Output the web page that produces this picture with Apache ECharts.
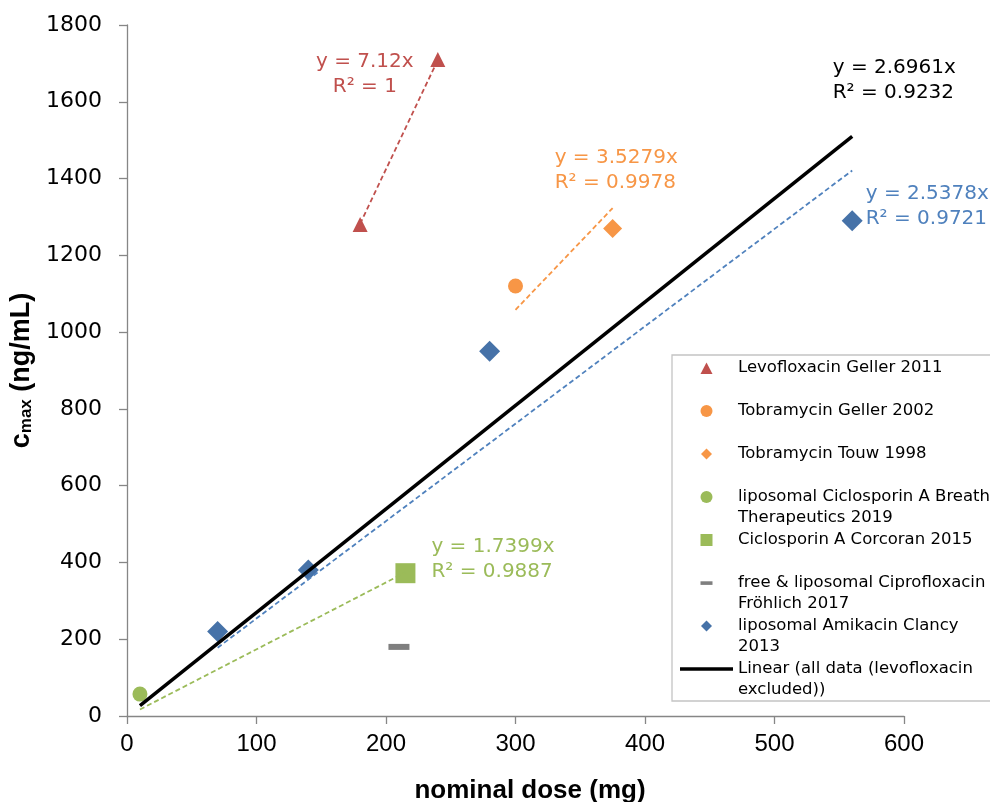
<!DOCTYPE html>
<html>
<head>
<meta charset="utf-8">
<script src="https://cdn.jsdelivr.net/npm/echarts@6/dist/echarts.min.js"></script>
<style>
html,body{margin:0;padding:0;background:#ffffff;}
#chart{width:990px;height:802px;}
</style>
</head>
<body>
<div id="chart"></div>
<script>
// ---------- data ----------
const xMin = 0, xMax = 600, xStep = 100;
const yMin = 0, yMax = 1800, yStep = 200;

const seriesNames = [
  'Levofloxacin Geller 2011',
  'Tobramycin Geller 2002',
  'Tobramycin Touw 1998',
  'liposomal Ciclosporin A Breath Therapeutics 2019',
  'Ciclosporin A Corcoran 2015',
  'free & liposomal Ciprofloxacin Fröhlich 2017',
  'liposomal Amikacin Clancy 2013',
  'Linear (all data (levofloxacin excluded))'
];
const legendLabels = [
  'Levofloxacin Geller 2011\n ',
  'Tobramycin Geller 2002\n ',
  'Tobramycin Touw 1998\n ',
  'liposomal Ciclosporin A Breath\nTherapeutics 2019',
  'Ciclosporin A Corcoran 2015\n ',
  'free & liposomal Ciprofloxacin\nFröhlich 2017',
  'liposomal Amikacin Clancy\n2013',
  'Linear (all data (levofloxacin\nexcluded))'
];

// [nominal dose (mg), cmax (ng/mL)]
const levofloxacinGeller2011 = [[180, 1280], [240, 1710]];
const tobramycinGeller2002 = [[300, 1120]];
const tobramycinTouw1998 = [[375, 1270]];
const ciclosporinBreath2019 = [[10, 57]];
const ciclosporinCorcoran2015 = [[215, 372]];
const ciprofloxacinFrohlich2017 = [[210, 180]];
const amikacinClancy2013 = [[70, 220], [140, 380], [280, 950], [560, 1290]];

// trend lines (end points)
const fitAllData = [[10, 27], [560, 1510]];
const fitLevofloxacin = [[180, 1282], [240, 1709]];
const fitTobramycin = [[300, 1058], [375, 1323]];
const fitCiclosporin = [[10, 17], [215, 374]];
const fitAmikacin = [[70, 178], [560, 1421]];

const eqAllData = 'y = 2.6961x\nR² = 0.9232';
const eqLevofloxacin = 'y = 7.12x\nR² = 1';
const eqTobramycin = 'y = 3.5279x\nR² = 0.9978';
const eqCiclosporin = 'y = 1.7399x\nR² = 0.9887';
const eqAmikacin = 'y = 2.5378x\nR² = 0.9721';

// ---------- styles ----------
const RED = '#C0504D', ORANGE = '#F79646', GREEN = '#9BBB59', GREY = '#7F7F7F';
const BLUE_MARK = '#4672A8', BLUE_LINE = '#4F81BD', BLACK = '#000000';
const AXIS_GREY = '#868686';
const WIDE_FONT = 'DejaVu Sans';
const FONT = 'Liberation Sans, Arial, sans-serif';

// legend icons: 53x42 box, glyph centred on first text line (y = 10.5)
const BOX = 'path://M0,0M53,42';
const legendIcons = [
  BOX + 'M20.5,16.5L26.5,5L32.5,16.5Z',
  BOX + 'M20.5,10.5A6,6 0 1 1 32.5,10.5A6,6 0 1 1 20.5,10.5Z',
  BOX + 'M26.5,5L32,10.5L26.5,16L21,10.5Z',
  BOX + 'M20.5,10.5A6,6 0 1 1 32.5,10.5A6,6 0 1 1 20.5,10.5Z',
  BOX + 'M20.5,4.5H32.5V16.5H20.5Z',
  BOX + 'M20.5,8.8H32.5V12.4H20.5Z',
  BOX + 'M26.5,5L32,10.5L26.5,16L21,10.5Z',
  BOX + 'M0,8.8H53V12.3H0Z'
];
const legendColors = [RED, ORANGE, ORANGE, GREEN, GREEN, GREY, BLUE_MARK, BLACK];

function scatter(i, data, symbol, size, color) {
  return {
    type: 'scatter', name: seriesNames[i], data: data,
    symbol: symbol, symbolSize: size,
    itemStyle: { color: color, opacity: 1 },
    z: 2
  };
}

function trend(data, color, dashed, width, eq, lbl, nameIdx) {
  const last = data.length - 1;
  const items = data.map((p, i) => i === last ? {
    value: p,
    label: Object.assign({
      show: true, formatter: eq, position: 'inside',
      color: color, fontFamily: WIDE_FONT, fontSize: 20, lineHeight: 25,
      verticalAlign: 'middle'
    }, lbl)
  } : { value: p, label: { show: false } });
  const s = {
    type: 'line', data: items,
    showSymbol: true, symbol: 'circle', symbolSize: 1,
    itemStyle: { color: 'rgba(0,0,0,0)' },
    lineStyle: { color: color, width: width, type: dashed ? [5, 3] : 'solid', cap: 'butt' },
    emphasis: { disabled: true },
    z: 5, silent: true
  };
  if (nameIdx !== undefined) s.name = seriesNames[nameIdx];
  return s;
}

const chart = echarts.init(document.getElementById('chart'), null, { renderer: 'canvas' });

chart.setOption({
  animation: false,
  backgroundColor: '#ffffff',
  grid: { left: 127, right: 86, top: 25, bottom: 86, containLabel: false, outerBoundsMode: 'none' },
  xAxis: {
    type: 'value', min: xMin, max: xMax, interval: xStep,
    name: 'nominal dose (mg)', nameLocation: 'middle', nameGap: 62,
    nameTextStyle: { fontFamily: FONT, fontSize: 26, fontWeight: 'bold', color: '#000', padding: [0, 0, 0, 29] },
    axisLine: { show: true, onZero: false, lineStyle: { color: AXIS_GREY, width: 1.3 } },
    axisTick: { show: true, inside: false, length: 8, lineStyle: { color: AXIS_GREY, width: 1.3 } },
    axisLabel: { fontFamily: FONT, fontSize: 24, color: '#000', margin: 16, formatter: v => String(v) },
    splitLine: { show: false }
  },
  yAxis: {
    type: 'value', min: yMin, max: yMax, interval: yStep,
    name: '{c|c}{s|max}{c| (ng/mL)}', nameLocation: 'middle', nameGap: 78, nameRotate: 90,
    nameTextStyle: {
      rich: {
        c: { fontFamily: FONT, fontSize: 27, fontWeight: 'bold', color: '#000' },
        s: { fontFamily: FONT, fontSize: 17, fontWeight: 'bold', color: '#000', verticalAlign: 'bottom' }
      }
    },
    axisLine: { show: true, onZero: false, lineStyle: { color: AXIS_GREY, width: 1.3 } },
    axisTick: { show: true, inside: false, length: 8, lineStyle: { color: AXIS_GREY, width: 1.3 } },
    axisLabel: { fontFamily: WIDE_FONT, fontSize: 22, color: '#000', margin: 25, formatter: v => String(v) },
    splitLine: { show: false }
  },
  legend: {
    show: true, orient: 'vertical', left: 672, top: 355,
    padding: [2.5, 8, 0.5, 8],
    itemGap: 1, itemWidth: 53, itemHeight: 42,
    symbolKeepAspect: true,
    borderColor: '#C4C4C4', borderWidth: 1.3, backgroundColor: '#ffffff',
    selectedMode: false,
    textStyle: { fontFamily: WIDE_FONT, fontSize: 16.5, lineHeight: 21, color: '#000' },
    formatter: name => legendLabels[seriesNames.indexOf(name)],
    data: seriesNames.map((n, i) => ({ name: n, icon: legendIcons[i], itemStyle: { color: legendColors[i] } }))
  },
  series: [
    scatter(0, levofloxacinGeller2011, 'triangle', 15, RED),
    scatter(1, tobramycinGeller2002, 'circle', 15, ORANGE),
    scatter(2, tobramycinTouw1998, 'diamond', 19, ORANGE),
    scatter(3, ciclosporinBreath2019, 'circle', 15, GREEN),
    scatter(4, ciclosporinCorcoran2015, 'rect', 20, GREEN),
    scatter(5, ciprofloxacinFrohlich2017, 'rect', [21, 6], GREY),
    scatter(6, amikacinClancy2013, 'diamond', 21, BLUE_MARK),
    trend(fitLevofloxacin, RED, true, 1.8, eqLevofloxacin, { offset: [-73, 14], align: 'center' }),
    trend(fitTobramycin, ORANGE, true, 1.8, eqTobramycin, { offset: [-58, -38], align: 'left' }),
    trend(fitCiclosporin, GREEN, true, 1.8, eqCiclosporin, { offset: [26, -13], align: 'left' }),
    trend(fitAmikacin, BLUE_LINE, true, 1.8, eqAmikacin, { offset: [13.5, 36], align: 'left' }),
    trend(fitAllData, BLACK, false, 3.5, eqAllData, { offset: [-19.5, -56], align: 'left' }, 7)
  ]
});
</script>
</body>
</html>
